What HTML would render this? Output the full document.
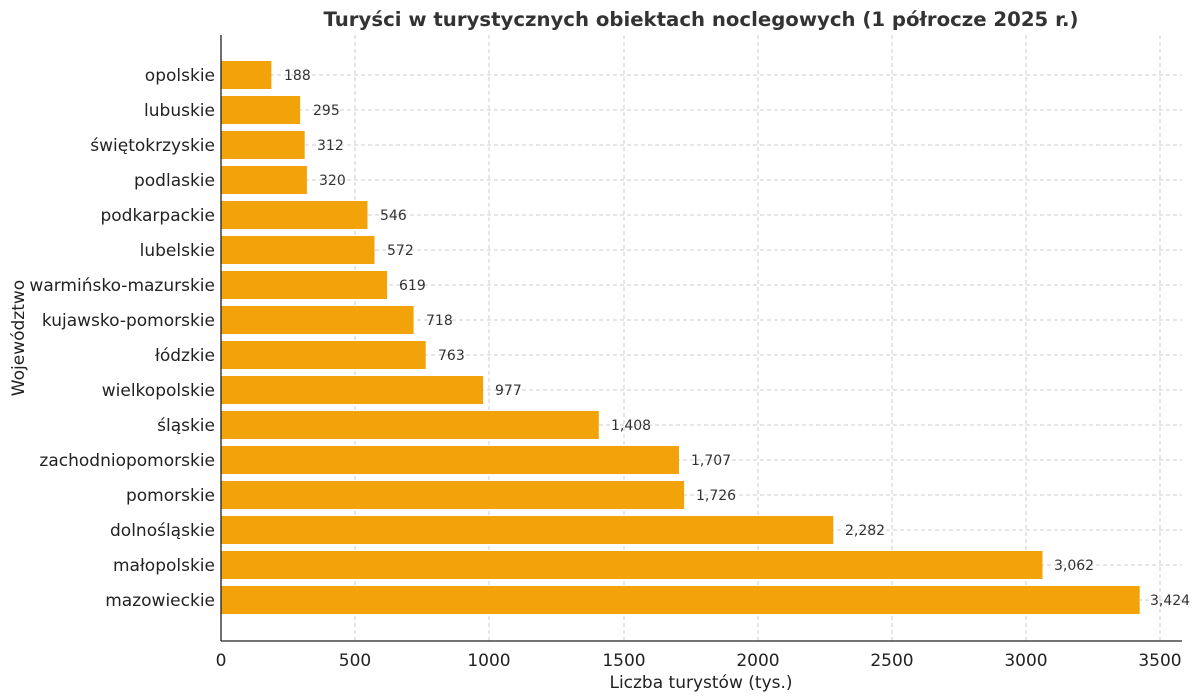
<!DOCTYPE html><html><head><meta charset="utf-8"><style>body{margin:0;background:#fff}</style></head><body>
<svg width="1200" height="695" xmlns="http://www.w3.org/2000/svg" font-family="DejaVu Sans, Liberation Sans, sans-serif">
<rect width="1200" height="695" fill="#fff"/>
<text x="701" y="26" text-anchor="middle" font-size="19.7" font-weight="bold" fill="#333">Turyści w turystycznych obiektach noclegowych (1 półrocze 2025 r.)</text>
<g stroke="#ccc" stroke-dasharray="4,3" stroke-width="1">
<line x1="355" y1="35" x2="355" y2="641"/><line x1="489" y1="35" x2="489" y2="641"/><line x1="624" y1="35" x2="624" y2="641"/><line x1="758" y1="35" x2="758" y2="641"/><line x1="892" y1="35" x2="892" y2="641"/><line x1="1026" y1="35" x2="1026" y2="641"/><line x1="1160" y1="35" x2="1160" y2="641"/>
<line x1="221" y1="75" x2="1182" y2="75"/><line x1="221" y1="110" x2="1182" y2="110"/><line x1="221" y1="145" x2="1182" y2="145"/><line x1="221" y1="180" x2="1182" y2="180"/><line x1="221" y1="215" x2="1182" y2="215"/><line x1="221" y1="250" x2="1182" y2="250"/><line x1="221" y1="285" x2="1182" y2="285"/><line x1="221" y1="320" x2="1182" y2="320"/><line x1="221" y1="355" x2="1182" y2="355"/><line x1="221" y1="390" x2="1182" y2="390"/><line x1="221" y1="425" x2="1182" y2="425"/><line x1="221" y1="460" x2="1182" y2="460"/><line x1="221" y1="495" x2="1182" y2="495"/><line x1="221" y1="530" x2="1182" y2="530"/><line x1="221" y1="565" x2="1182" y2="565"/><line x1="221" y1="600" x2="1182" y2="600"/>
</g>
<g fill="#f2a30a">
<rect x="221" y="61" width="50.4" height="28"/>
<rect x="221" y="96" width="79.1" height="28"/>
<rect x="221" y="131" width="83.7" height="28"/>
<rect x="221" y="166" width="85.9" height="28"/>
<rect x="221" y="201" width="146.5" height="28"/>
<rect x="221" y="236" width="153.5" height="28"/>
<rect x="221" y="271" width="166.1" height="28"/>
<rect x="221" y="306" width="192.6" height="28"/>
<rect x="221" y="341" width="204.7" height="28"/>
<rect x="221" y="376" width="262.1" height="28"/>
<rect x="221" y="411" width="377.8" height="28"/>
<rect x="221" y="446" width="458.0" height="28"/>
<rect x="221" y="481" width="463.1" height="28"/>
<rect x="221" y="516" width="612.3" height="28"/>
<rect x="221" y="551" width="821.5" height="28"/>
<rect x="221" y="586" width="918.7" height="28"/>
</g>
<g font-size="17" fill="#222" text-anchor="end">
<text x="215" y="81">opolskie</text>
<text x="215" y="116">lubuskie</text>
<text x="215" y="151">świętokrzyskie</text>
<text x="215" y="186">podlaskie</text>
<text x="215" y="221">podkarpackie</text>
<text x="215" y="256">lubelskie</text>
<text x="215" y="291">warmińsko-mazurskie</text>
<text x="215" y="326">kujawsko-pomorskie</text>
<text x="215" y="361">łódzkie</text>
<text x="215" y="396">wielkopolskie</text>
<text x="215" y="431">śląskie</text>
<text x="215" y="466">zachodniopomorskie</text>
<text x="215" y="501">pomorskie</text>
<text x="215" y="536">dolnośląskie</text>
<text x="215" y="571">małopolskie</text>
<text x="215" y="606">mazowieckie</text>
</g>
<g font-size="14" fill="#333">
<text x="284" y="80">188</text>
<text x="313" y="115">295</text>
<text x="317" y="150">312</text>
<text x="319" y="185">320</text>
<text x="380" y="220">546</text>
<text x="387" y="255">572</text>
<text x="399" y="290">619</text>
<text x="426" y="325">718</text>
<text x="438" y="360">763</text>
<text x="495" y="395">977</text>
<text x="611" y="430">1,408</text>
<text x="691" y="465">1,707</text>
<text x="696" y="500">1,726</text>
<text x="845" y="535">2,282</text>
<text x="1054" y="570">3,062</text>
<text x="1150" y="605">3,424</text>
</g>
<line x1="221" y1="35" x2="221" y2="641" stroke="#222" stroke-width="1.3"/>
<line x1="221" y1="641" x2="1182" y2="641" stroke="#222" stroke-width="1.3"/>
<g font-size="17" fill="#222" text-anchor="middle">
<text x="221" y="666">0</text><text x="355" y="666">500</text><text x="489" y="666">1000</text><text x="624" y="666">1500</text><text x="758" y="666">2000</text><text x="892" y="666">2500</text><text x="1026" y="666">3000</text><text x="1160" y="666">3500</text>
</g>
<text x="701" y="688" text-anchor="middle" font-size="17" fill="#222">Liczba turystów (tys.)</text>
<text transform="translate(24,338) rotate(-90)" text-anchor="middle" font-size="17" fill="#222">Województwo</text>
</svg></body></html>
